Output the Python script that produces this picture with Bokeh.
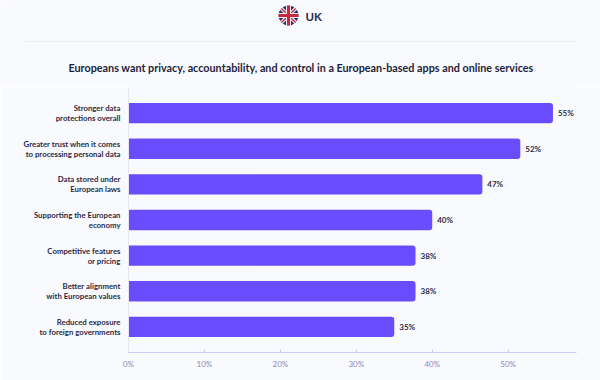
from bokeh.plotting import figure
from bokeh.layouts import column
from bokeh.models import ColumnDataSource, FactorRange, Range1d, PrintfTickFormatter
from bokeh.core.properties import value
from bokeh.embed import file_html
from bokeh.resources import INLINE

categories = [
    "Stronger data\nprotections overall",
    "Greater trust when it comes\nto processing personal data",
    "Data stored under\nEuropean laws",
    "Supporting the European\neconomy",
    "Competitive features\nor pricing",
    "Better alignment\nwith European values",
    "Reduced exposure\nto foreign governments",
]
bar_values = [55.9, 51.6, 46.6, 40.0, 37.8, 37.8, 35.0]
value_labels = ["55%", "52%", "47%", "40%", "38%", "38%", "35%"]
title_text = "Europeans want privacy, accountability, and control in a European-based apps and online services"
country = "UK"

BG = "#f9fafe"
FONT = "Lato"

# Header: flag, country, rule and title (pixel-based coordinates)
head = figure(width=600, height=87, toolbar_location=None, output_backend="svg",
              x_range=Range1d(0, 600), y_range=Range1d(87, 0),
              min_border=0, outline_line_color=None, background_fill_color=BG,
              border_fill_color=BG, x_axis_type=None, y_axis_type=None)
head.frame_align = False
head.grid.visible = False
fx, fy, r = 288, 15, 10
head.scatter([fx], [fy], size=2 * r, marker="circle", fill_color="#2b2f6b", line_color=None)
d = r * 0.707
head.segment([fx - d, fx - d], [fy - d, fy + d], [fx + d, fx + d], [fy + d, fy - d], line_color="#f3eef2", line_width=3.5)
head.segment([fx - d, fx - d], [fy - d, fy + d], [fx + d, fx + d], [fy + d, fy - d], line_color="#c8283f", line_width=1.3)
head.segment([fx - r, fx], [fy, fy - r], [fx + r, fx], [fy, fy + r], line_color="#f3eef2", line_width=5)
head.segment([fx - r, fx], [fy, fy - r], [fx + r, fx], [fy, fy + r], line_color="#c8283f", line_width=3)
head.text([305], [15.5], text=[country], text_font=value(FONT), text_font_size="11.5px",
          text_font_style="bold", text_color="#2b2b45", text_baseline="middle", text_align="left")
head.segment([24], [41], [576], [41], line_color="#eceef6", line_width=1)
head.text([300.5], [67], text=[title_text], text_font=value(FONT), text_font_size="10.8px",
          text_font_style="bold", text_color="#1f1f38", text_baseline="middle", text_align="center")

# Chart
src = ColumnDataSource(dict(cat=categories, val=bar_values, lab=value_labels))
p = figure(width=600, height=293, toolbar_location=None, output_backend="svg",
           y_range=FactorRange(factors=categories[::-1], range_padding=0.22, range_padding_units="absolute"),
           x_range=Range1d(0, 59),
           min_border_left=128, min_border_right=24, min_border_top=0, min_border_bottom=28,
           outline_line_color=None, background_fill_color=BG, border_fill_color=BG)
p.frame_align = False
p.hbar(y="cat", right="val", left=0, height=0.57, source=src, fill_color="#6a4cff", line_color=None,
       border_radius=(0, 3, 3, 0))
p.text(x="val", y="cat", text="lab", source=src, x_offset=5, text_font=value(FONT), text_font_size="8px",
       text_font_style="bold", text_color="#2b2b45", text_baseline="middle", text_align="left")
p.grid.visible = False
p.xaxis.ticker = [0, 10, 20, 30, 40, 50]
p.xaxis.formatter = PrintfTickFormatter(format="%d%%")
p.xaxis.axis_line_color = "#cfcbf3"
p.xaxis.major_tick_line_color = "#cfcbf3"
p.xaxis.major_tick_out = 0
p.xaxis.major_tick_in = 3
p.xaxis.minor_tick_line_color = None
p.xaxis.major_label_text_color = "#8d89b5"
p.xaxis.major_label_text_font = FONT
p.xaxis.major_label_text_font_size = "8px"
p.xaxis.major_label_standoff = 6
p.yaxis.axis_line_color = "#e6e6f2"
p.yaxis.major_tick_line_color = None
p.yaxis.minor_tick_line_color = None
p.yaxis.major_label_text_color = "#2b2b45"
p.yaxis.major_label_text_font = FONT
p.yaxis.major_label_text_font_size = "7.8px"
p.yaxis.major_label_text_font_style = "bold"
p.yaxis.major_label_text_line_height = 1.0
p.yaxis.major_label_standoff = 2

layout = column(head, p, spacing=0)
open("out.html", "w").write(file_html(layout, INLINE))
